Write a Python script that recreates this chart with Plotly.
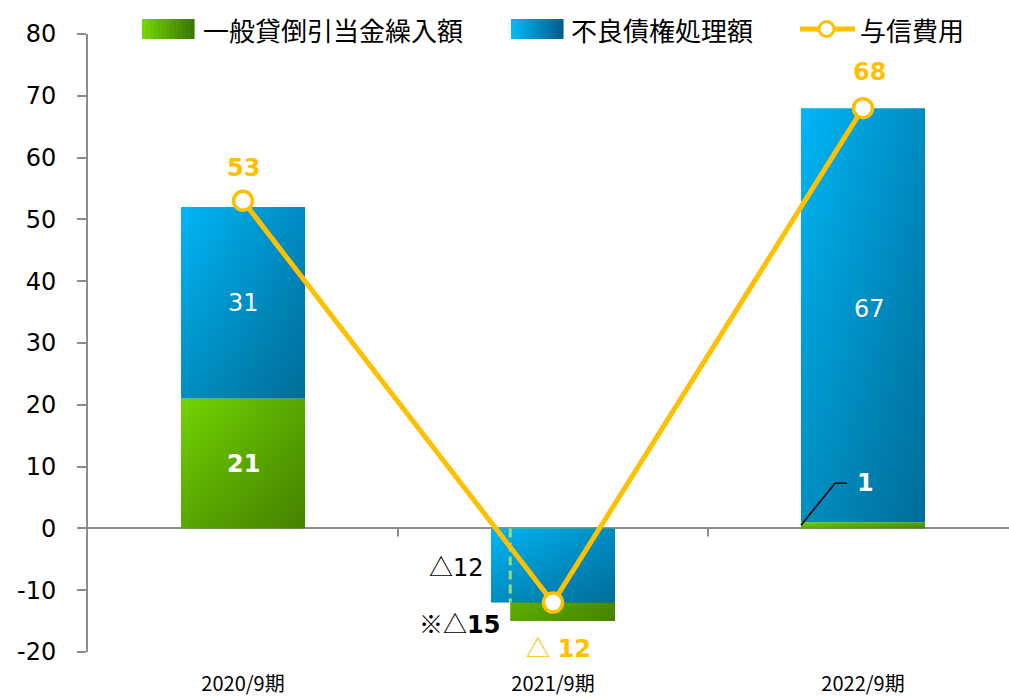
import plotly.graph_objects as go

periods = ["2020/9期", "2021/9期", "2022/9期"]
provision = [21, -15, 1]       # 一般貸倒引当金繰入額
disposal = [31, -12, 67]       # 不良債権処理額
credit_cost = [53, -12, 68]    # 与信費用
y_ticks = [-20, -10, 0, 10, 20, 30, 40, 50, 60, 70, 80]

W, H = 1009, 698
M_L, M_R, M_T, M_B = 88, 0, 34, 46
PLOT_W = W - M_L - M_R
CAT_PX = 310
BAR_W = 0.4
NEG_INSET = 0.062

NUM_FONT = "DejaVu Sans, Noto Sans CJK JP"
JP_FONT = "Noto Sans CJK JP, DejaVu Sans"
ORANGE = "#FFC000"
GREEN_L, GREEN_D = (114, 212, 0), (62, 120, 0)
BLUE_L, BLUE_D = (0, 182, 246), (0, 96, 143)


def mix(a, b, t):
    return tuple(round(a[i] + (b[i] - a[i]) * t) for i in range(3))


def rgb(c):
    return "rgb(%d,%d,%d)" % c


def tri(text):
    # the triangle and reference mark are set in the Japanese face
    return "<span style='font-family:Noto Sans CJK JP'>%s</span>" % text


def fmt(v):
    return (tri("△") + str(-v)) if v < 0 else str(v)


fig = go.Figure()


def add_block(x0, x1, y0, y1, light, dark):
    xs = [x0, x1, x1, x0, x0]
    ys = [y0, y0, y1, y1, y0]
    mid = mix(light, dark, 0.5)
    # left-to-right shading
    fig.add_trace(go.Scatter(
        x=xs, y=ys, mode="lines", fill="toself", line=dict(width=0),
        fillgradient=dict(type="horizontal",
                          colorscale=[[0, rgb(light)], [1, rgb(mid)]]),
        hoverinfo="skip", showlegend=False))
    # top-to-bottom darkening
    fig.add_trace(go.Scatter(
        x=xs, y=ys, mode="lines", fill="toself", line=dict(width=0),
        fillgradient=dict(type="vertical",
                          colorscale=[[0, "rgba(0,0,0,0.22)"], [1, "rgba(0,0,0,0)"]]),
        hoverinfo="skip", showlegend=False))


for i in range(len(periods)):
    g, b = provision[i], disposal[i]
    left, right = i - BAR_W / 2, i + BAR_W / 2
    if g >= 0 and b >= 0:
        add_block(left, right, 0, g, GREEN_L, GREEN_D)
        add_block(left, right, g, g + b, BLUE_L, BLUE_D)
    else:
        # negative period: both amounts hang from zero, blue in front
        add_block(left + NEG_INSET, right, 0, g, GREEN_L, GREEN_D)
        add_block(left, right, 0, b, BLUE_L, BLUE_D)
        fig.add_trace(go.Scatter(
            x=[left + NEG_INSET, left + NEG_INSET], y=[0, b], mode="lines",
            line=dict(color="rgba(160,222,120,0.95)", width=3, dash="9px,5px"),
            hoverinfo="skip", showlegend=False))

# leader for the small 2022 provision
lx = 2 - BAR_W / 2
fig.add_trace(go.Scatter(
    x=[lx, lx + 34 / CAT_PX, lx + 46 / CAT_PX],
    y=[provision[2] / 2, 7.3, 7.3], mode="lines",
    line=dict(color="black", width=1.6), hoverinfo="skip", showlegend=False))

# credit cost line
fig.add_trace(go.Scatter(
    x=list(range(len(periods))), y=credit_cost, mode="lines+markers",
    line=dict(color=ORANGE, width=5),
    marker=dict(size=19, color="white", line=dict(color=ORANGE, width=3.5)),
    hoverinfo="skip", showlegend=False))

ann = []
# bar labels
ann.append(dict(x=0, y=provision[0] / 2, text="<b>%s</b>" % fmt(provision[0]),
                font=dict(color="white", size=24, family=NUM_FONT)))
ann.append(dict(x=0, y=provision[0] + disposal[0] / 2, text=fmt(disposal[0]),
                font=dict(color="white", size=24, family=NUM_FONT)))
ann.append(dict(x=2, y=provision[2] + disposal[2] / 2, text=fmt(disposal[2]),
                xshift=6, yshift=6, font=dict(color="white", size=24, family=NUM_FONT)))
ann.append(dict(x=lx + 64 / CAT_PX, y=7.3, text="<b>%s</b>" % fmt(provision[2]),
                font=dict(color="white", size=24, family=NUM_FONT)))
ann.append(dict(x=1 - BAR_W / 2, y=disposal[1] / 2, text=fmt(disposal[1]),
                xanchor="right", xshift=-5,
                font=dict(color="black", size=24, family=NUM_FONT)))
ann.append(dict(x=1 - BAR_W / 2 + NEG_INSET, y=provision[1],
                text=tri("※△") + "<b>%d</b>" % (-provision[1]),
                xanchor="right", xshift=-8, yshift=-1,
                font=dict(color="black", size=24, family=NUM_FONT)))
# credit cost labels
shifts = [(0, 33), (5, -44), (6, 36)]
for i, v in enumerate(credit_cost):
    txt = (tri("△") + " <b>%d</b>" % -v) if v < 0 else "<b>%d</b>" % v
    ann.append(dict(x=i, y=v, text=txt, xshift=shifts[i][0], yshift=shifts[i][1],
                    font=dict(color=ORANGE, size=24, family=NUM_FONT)))
for a in ann:
    a.update(xref="x", yref="y", showarrow=False)

# unit label (top edge)
ann.append(dict(xref="paper", yref="paper", x=(100 - M_L) / PLOT_W, y=1, yshift=30,
                yanchor="bottom", text="(億円)", showarrow=False,
                font=dict(color="black", size=20, family=JP_FONT)))

shapes = []
# category ticks on the zero line
for k in range(len(periods)):
    shapes.append(dict(type="line", xref="x", yref="y", x0=k + 0.5, x1=k + 0.5,
                       ysizemode="pixel", yanchor=0, y0=0, y1=-8,
                       line=dict(color="#8c8c8c", width=2)))


def px_rect(x0, x1, y0, y1, color):
    return dict(type="rect", xref="paper", yref="paper",
                xsizemode="pixel", xanchor=0, x0=x0 - M_L, x1=x1 - M_L,
                ysizemode="pixel", yanchor=1, y0=M_T - y0, y1=M_T - y1,
                fillcolor=color, line=dict(width=0), layer="above")


# legend
legend_items = [
    (142, 194, 201, "一般貸倒引当金繰入額", GREEN_L, GREEN_D),
    (511, 563, 569, "不良債権処理額", BLUE_L, BLUE_D),
]
LEG_Y = 29
STRIPS = 13
for sx0, sx1, tx, label, cl, cd in legend_items:
    step = (sx1 - sx0) / STRIPS
    for s in range(STRIPS):
        shapes.append(px_rect(sx0 + s * step, sx0 + (s + 1) * step + 0.6,
                              LEG_Y - 10, LEG_Y + 10, rgb(mix(cl, cd, s / (STRIPS - 1)))))
    ann.append(dict(xref="paper", yref="paper", x=(tx - M_L) / PLOT_W, y=1,
                    yshift=M_T - LEG_Y, xanchor="left", yanchor="middle",
                    text=label, showarrow=False,
                    font=dict(color="black", size=26, family=JP_FONT)))

shapes.append(dict(type="line", xref="paper", yref="paper",
                   xsizemode="pixel", xanchor=0, x0=800 - M_L, x1=855 - M_L,
                   ysizemode="pixel", yanchor=1, y0=M_T - LEG_Y, y1=M_T - LEG_Y,
                   line=dict(color=ORANGE, width=5), layer="above"))
shapes.append(dict(type="circle", xref="paper", yref="paper",
                   xsizemode="pixel", xanchor=0, x0=819 - M_L, x1=834 - M_L,
                   ysizemode="pixel", yanchor=1, y0=M_T - LEG_Y + 7.5, y1=M_T - LEG_Y - 7.5,
                   fillcolor="white", line=dict(color=ORANGE, width=3), layer="above"))
ann.append(dict(xref="paper", yref="paper", x=(858 - M_L) / PLOT_W, y=1,
                yshift=M_T - LEG_Y, xanchor="left", yanchor="middle",
                text="与信費用", showarrow=False,
                font=dict(color="black", size=26, family=JP_FONT)))

fig.update_layout(
    width=W, height=H,
    margin=dict(l=M_L, r=M_R, t=M_T, b=M_B, autoexpand=False),
    paper_bgcolor="white", plot_bgcolor="white",
    showlegend=False,
    annotations=ann, shapes=shapes,
    xaxis=dict(range=[-0.5, -0.5 + PLOT_W / CAT_PX], tickvals=list(range(len(periods))),
               ticktext=periods, ticks="", showgrid=False, zeroline=False,
               showline=False, ticklabelstandoff=18, automargin=False,
               tickfont=dict(size=20, color="black", family=JP_FONT)),
    yaxis=dict(range=[-20, 80], tickvals=y_ticks, ticktext=[str(v) for v in y_ticks],
               showgrid=False, automargin=False,
               zeroline=True, zerolinecolor="#8c8c8c", zerolinewidth=2,
               showline=True, linecolor="#8c8c8c", linewidth=2,
               ticks="outside", ticklen=9, tickwidth=2, tickcolor="#8c8c8c",
               ticklabelstandoff=16,
               tickfont=dict(size=24, color="black", family=NUM_FONT)),
)

fig.write_html("out.html")
